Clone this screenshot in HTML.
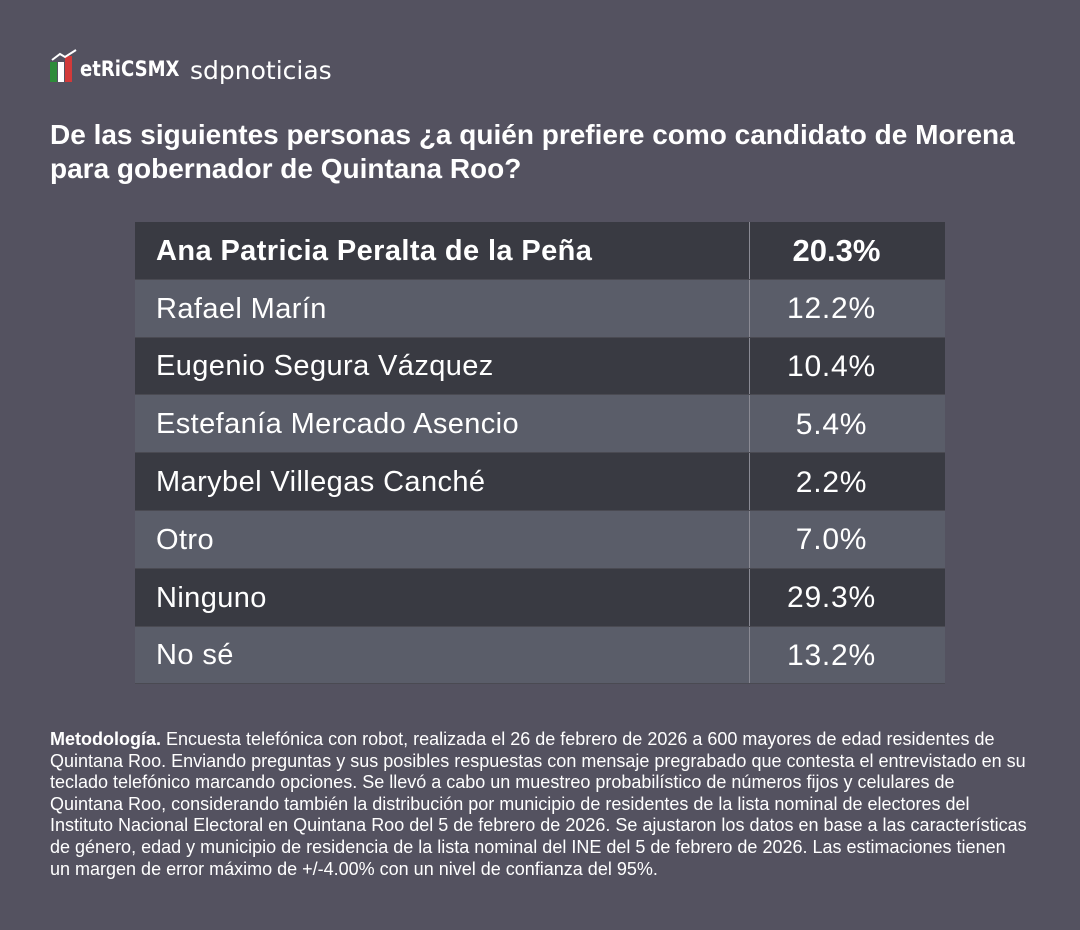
<!DOCTYPE html>
<html><head><meta charset="utf-8"><style>
body{margin:0;width:1080px;height:930px;background:#545260;font-family:"Liberation Sans",Arial,sans-serif;color:#fff;position:relative;overflow:hidden}
.m{position:absolute;left:80px;top:57px;font-family:"DejaVu Sans",sans-serif;font-weight:bold;font-size:21px;transform:scaleX(0.86);transform-origin:left top}
.sdp{position:absolute;left:190px;top:56px;font-size:25px;font-family:"DejaVu Sans",sans-serif}
h1{position:absolute;left:50px;top:118px;margin:0;font-size:28px;line-height:34px;font-weight:bold;width:1030px;white-space:nowrap}
table{position:absolute;left:135px;top:222px;border-collapse:collapse;width:810px}
td{height:54.8px;padding:0;padding-top:2px;font-size:29px;letter-spacing:0.4px;border-bottom:1px solid #4a4a52}
td.n{padding-left:21px;width:593px;border-right:1.5px solid #8a8a94}
td.v{text-align:center;padding-right:32px;font-size:30px;letter-spacing:0.8px}
tr.d{background:#393a42}tr.l{background:#5a5d69}
tr.h td{font-weight:bold}
.met{position:absolute;left:50px;top:729px;width:1030px;font-size:18px;line-height:21.6px;white-space:nowrap}
</style></head><body>
<svg style="position:absolute;left:50px;top:48px" width="30" height="36">
<rect x="0" y="14" width="7" height="20" fill="#2e8b3a"/><rect x="8" y="14" width="6" height="20" fill="#fff"/><rect x="15" y="8" width="7" height="26" fill="#d23a3a"/>
<polyline points="2,12 10,6 15,9 26,2" stroke="#fff" stroke-width="2" fill="none"/>
</svg>
<div class="m">etRiCSMX</div>
<div class="sdp">sdpnoticias</div>
<h1>De las siguientes personas ¿a quién prefiere como candidato de Morena<br>para gobernador de Quintana Roo?</h1>
<table>
<tr class="d h"><td class="n">Ana Patricia Peralta de la Peña</td><td class="v" style="font-size:31px;letter-spacing:0;padding-right:22px">20.3%</td></tr>
<tr class="l"><td class="n">Rafael Marín</td><td class="v">12.2%</td></tr>
<tr class="d"><td class="n">Eugenio Segura Vázquez</td><td class="v">10.4%</td></tr>
<tr class="l"><td class="n">Estefanía Mercado Asencio</td><td class="v">5.4%</td></tr>
<tr class="d"><td class="n">Marybel Villegas Canché</td><td class="v">2.2%</td></tr>
<tr class="l"><td class="n">Otro</td><td class="v">7.0%</td></tr>
<tr class="d"><td class="n">Ninguno</td><td class="v">29.3%</td></tr>
<tr class="l"><td class="n">No sé</td><td class="v">13.2%</td></tr>
</table>
<div class="met"><b>Metodología.</b> Encuesta telefónica con robot, realizada el 26 de febrero de 2026 a 600 mayores de edad residentes de<br>Quintana Roo. Enviando preguntas y sus posibles respuestas con mensaje pregrabado que contesta el entrevistado en su<br>teclado telefónico marcando opciones. Se llevó a cabo un muestreo probabilístico de números fijos y celulares de<br>Quintana Roo, considerando también la distribución por municipio de residentes de la lista nominal de electores del<br>Instituto Nacional Electoral en Quintana Roo del 5 de febrero de 2026. Se ajustaron los datos en base a las características<br>de género, edad y municipio de residencia de la lista nominal del INE del 5 de febrero de 2026. Las estimaciones tienen<br>un margen de error máximo de +/-4.00% con un nivel de confianza del 95%.</div>
</body></html>
